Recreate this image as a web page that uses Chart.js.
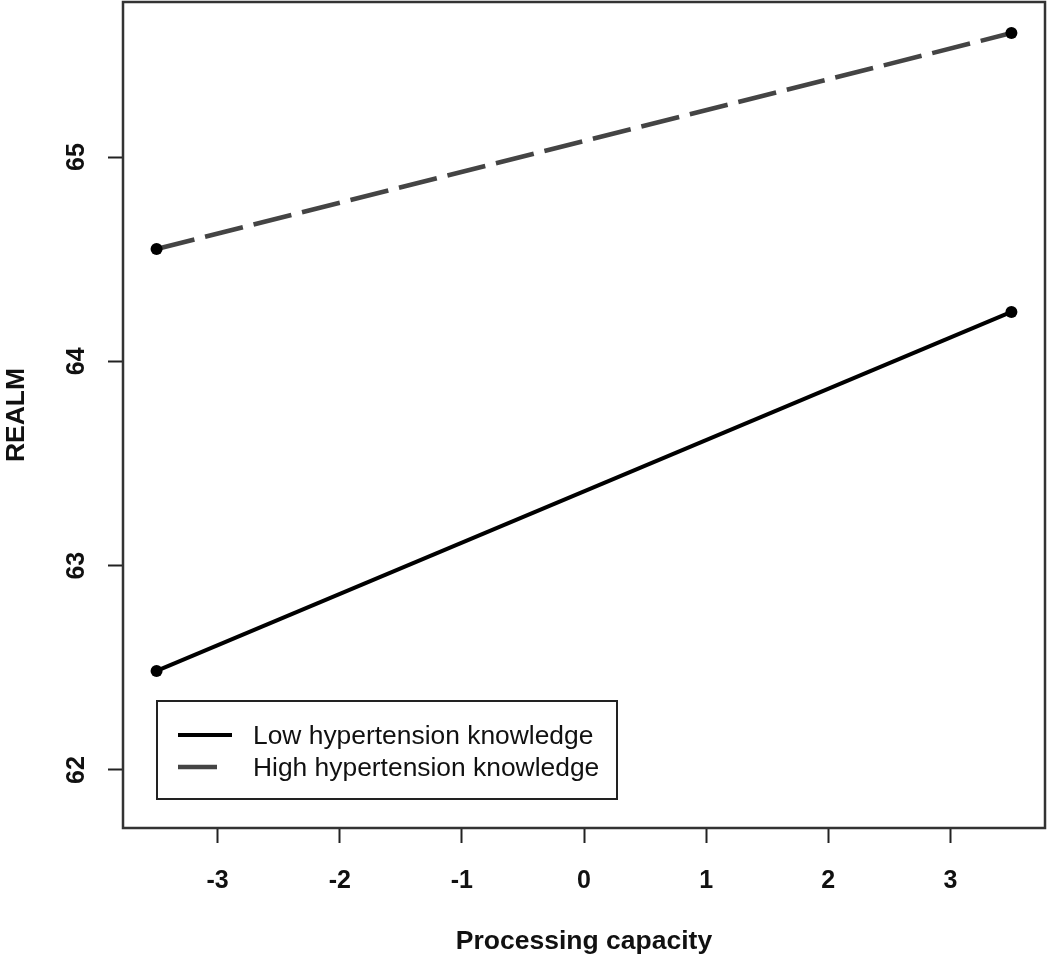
<!DOCTYPE html>
<html>
<head>
<meta charset="utf-8">
<script src="https://cdn.jsdelivr.net/npm/chart.js@4/dist/chart.umd.min.js"></script>
<style>
  html, body { margin: 0; padding: 0; background: #fff; }
  #wrap { width: 1050px; height: 959px; }
</style>
</head>
<body>
<div id="wrap"><canvas id="c" width="1050" height="959"></canvas></div>
<script>
// ---- data ----
const xValues = [-3.5, 3.5];
const lowKnowledge = [62.485, 64.242];
const highKnowledge = [64.55, 65.607];
const seriesLabels = ["Low hypertension knowledge", "High hypertension knowledge"];
const xTicks = [-3, -2, -1, 0, 1, 2, 3];
const yTicks = [62, 63, 64, 65];
const xTitle = "Processing capacity";
const yTitle = "REALM";

const FONT = "'Liberation Sans', Arial, Helvetica, sans-serif";

function toPoints(ys) { return xValues.map((x, i) => ({ x: x, y: ys[i] })); }

const boxPlugin = {
  id: 'boxPlugin',
  afterDraw(chart) {
    const { ctx, chartArea: a } = chart;
    ctx.save();
    ctx.strokeStyle = '#333';
    ctx.lineWidth = 2.5;
    ctx.strokeRect(a.left, a.top, a.right - a.left, a.bottom - a.top);
    ctx.restore();
  }
};

const legendPlugin = {
  id: 'boxLegend',
  afterDraw(chart) {
    const { ctx } = chart;
    const bx = 157, by = 701, bw = 460, bh = 98;
    ctx.save();
    ctx.fillStyle = '#fff';
    ctx.fillRect(bx, by, bw, bh);
    ctx.strokeStyle = '#222';
    ctx.lineWidth = 2;
    ctx.strokeRect(bx, by, bw, bh);
    const rows = [735, 767];
    chart.data.datasets.forEach((ds, i) => {
      const y = rows[i];
      const dash = ds.borderDash || [];
      const len = dash.length ? Math.min(54, dash[0] + dash[1]) : 54;
      ctx.beginPath();
      ctx.setLineDash(dash);
      ctx.lineWidth = ds.borderWidth;
      ctx.strokeStyle = ds.borderColor;
      ctx.moveTo(178, y);
      ctx.lineTo(178 + len, y);
      ctx.stroke();
      ctx.setLineDash([]);
      ctx.fillStyle = '#111';
      ctx.font = "26.4px " + FONT;
      ctx.textBaseline = 'middle';
      ctx.textAlign = 'left';
      ctx.fillText(ds.label, 253, y + 2);
    });
    ctx.restore();
  }
};

new Chart(document.getElementById('c'), {
  type: 'scatter',
  data: {
    datasets: [
      {
        label: seriesLabels[0],
        data: toPoints(lowKnowledge),
        showLine: true,
        borderColor: '#000',
        borderWidth: 4,
        pointRadius: 6,
        pointBackgroundColor: '#000',
        pointBorderColor: '#000',
        pointBorderWidth: 0
      },
      {
        label: seriesLabels[1],
        data: toPoints(highKnowledge),
        showLine: true,
        borderColor: '#444',
        borderWidth: 4.5,
        borderDash: [39, 11],
        pointRadius: 6,
        pointBackgroundColor: '#000',
        pointBorderColor: '#000',
        pointBorderWidth: 0
      }
    ]
  },
  options: {
    responsive: false,
    animation: false,
    devicePixelRatio: 1,
    layout: { autoPadding: false, padding: { top: 2, right: 5, left: 0, bottom: 0 } },
    plugins: { legend: { display: false }, tooltip: { enabled: false } },
    scales: {
      x: {
        type: 'linear',
        min: -3.775,
        max: 3.775,
        afterBuildTicks(scale) { scale.ticks = xTicks.map(v => ({ value: v })); },
        afterFit(scale) { scale.height = 131; scale.paddingLeft = 0; scale.paddingRight = 0; },
        border: { display: false },
        grid: { drawOnChartArea: false, drawTicks: true, tickLength: 15, tickColor: '#222', tickWidth: 2 },
        ticks: {
          padding: 23,
          color: '#111',
          font: { family: FONT, size: 25, weight: 'bold' },
          maxRotation: 0,
          autoSkip: false
        },
        title: {
          display: true,
          text: xTitle,
          color: '#111',
          font: { family: FONT, size: 26.5, weight: 'bold' },
          padding: { top: 0, bottom: 1 }
        }
      },
      y: {
        type: 'linear',
        min: 61.716,
        max: 65.759,
        afterBuildTicks(scale) { scale.ticks = yTicks.map(v => ({ value: v })); },
        afterFit(scale) { scale.width = 123; scale.paddingTop = 0; scale.paddingBottom = 0; },
        border: { display: false },
        grid: { drawOnChartArea: false, drawTicks: true, tickLength: 15, tickColor: '#222', tickWidth: 2 },
        ticks: {
          padding: 17,
          color: '#111',
          minRotation: 90,
          maxRotation: 90,
          crossAlign: 'center',
          font: { family: FONT, size: 25, weight: 'bold' },
          autoSkip: false
        },
        title: {
          display: true,
          text: yTitle,
          color: '#111',
          font: { family: FONT, size: 26.5, weight: 'bold' },
          padding: { top: 1, bottom: 0 }
        }
      }
    }
  },
  plugins: [boxPlugin, legendPlugin]
});
</script>
</body>
</html>
